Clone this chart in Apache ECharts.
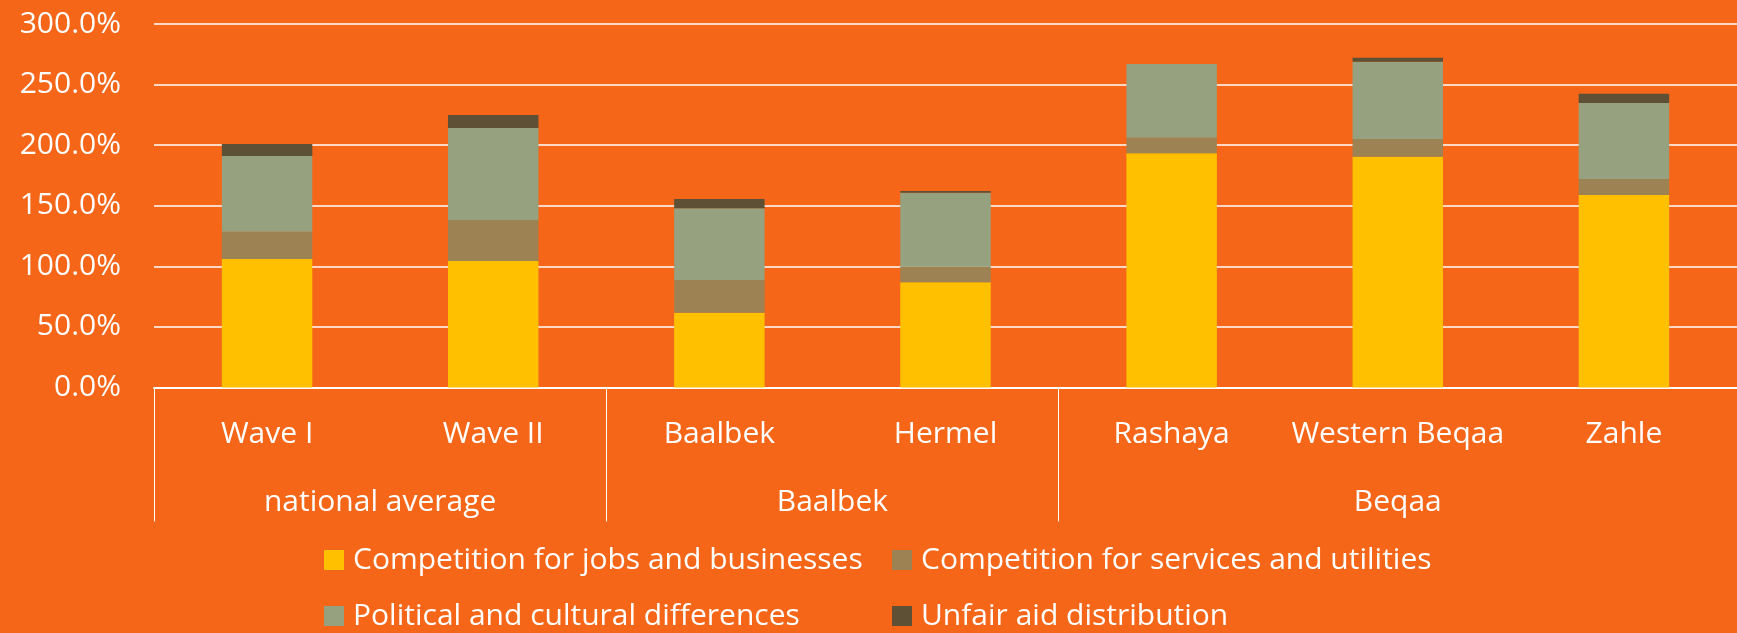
<!DOCTYPE html>
<html>
<head>
<meta charset="utf-8">
<script src="https://cdn.jsdelivr.net/npm/echarts@6/dist/echarts.min.js"></script>
<style>
  html, body { margin: 0; padding: 0; background: #F56618; }
  #chart { width: 1737px; height: 633px; }
</style>
</head>
<body>
<div id="chart"></div>
<script>
// ---- data ----
const categories = ['Wave I', 'Wave II', 'Baalbek', 'Hermel', 'Rashaya', 'Western Beqaa', 'Zahle'];
const groupNames = ['national average', 'Baalbek', 'Beqaa'];
const groupSizes = [2, 2, 3];
const seriesNames = [
  'Competition for jobs and businesses',
  'Competition for services and utilities',
  'Political and cultural differences',
  'Unfair aid distribution'
];
const jobs      = [106.0, 104.4, 61.7, 86.8, 193.3, 190.5, 158.9];
const services  = [22.6, 33.8, 27.0, 12.9, 12.9, 14.6, 13.2];
const political = [62.5, 76.0, 59.2, 61.1, 60.8, 63.8, 62.7];
const unfair    = [9.9, 10.7, 7.7, 1.4, 0, 3.3, 7.7];
const yTicks = [0, 50, 100, 150, 200, 250, 300];

// ---- build ----
const colors = ['#FFC000', '#9D8353', '#96A17F', '#5E5035'];
const values = [jobs, services, political, unfair];
const FONT = "'Open Sans', sans-serif";

// group boundaries and centers on a 0..N value scale
const bounds = [0];
groupSizes.forEach(s => bounds.push(bounds[bounds.length - 1] + s));
const centers = groupSizes.map((s, i) => bounds[i] + s / 2);

const legendStyle = {
  orient: 'vertical', top: 545, padding: 0,
  itemWidth: 20, itemHeight: 20, itemGap: 26, icon: 'rect',
  textStyle: { color: '#fff', fontSize: 30, fontFamily: FONT, lineHeight: 30, padding: [0, 0, 0, 4] }
};

const chart = echarts.init(document.getElementById('chart'), null, { renderer: 'canvas' });
chart.setOption({
  backgroundColor: '#F56618',
  animation: false,
  textStyle: { fontFamily: FONT },
  grid: { left: 154, right: 0, top: 24, bottom: 245.5, containLabel: false },
  legend: [
    Object.assign({ data: [seriesNames[0], seriesNames[2]], left: 324 }, legendStyle),
    Object.assign({ data: [seriesNames[1], seriesNames[3]], left: 892 }, legendStyle)
  ],
  xAxis: [
    {
      type: 'category',
      data: categories,
      axisLine: { show: true, lineStyle: { color: '#fff', width: 2 } },
      axisTick: { show: false },
      axisLabel: { color: '#fff', fontSize: 30, fontFamily: FONT, margin: 32, interval: 0 }
    },
    {
      type: 'value',
      min: 0, max: categories.length,
      position: 'bottom',
      axisLine: { show: false },
      splitLine: { show: false },
      axisTick: {
        show: true, length: 134, customValues: bounds.concat([categories.length]),
        lineStyle: { color: '#fff', width: 1 }
      },
      axisLabel: {
        color: '#fff', fontSize: 30, fontFamily: FONT, margin: 100,
        customValues: centers,
        formatter: (v) => {
          const i = centers.indexOf(v);
          return i >= 0 ? groupNames[i] : '';
        }
      }
    }
  ],
  yAxis: {
    type: 'value',
    min: 0, max: 300, interval: 50,
    axisLine: { show: false },
    axisTick: { show: false },
    splitLine: { show: true, lineStyle: { color: '#fff', width: 1.5 } },
    axisLabel: {
      color: '#fff', fontSize: 30, fontFamily: FONT, margin: 33,
      customValues: yTicks,
      formatter: (v) => v.toFixed(1) + '%'
    }
  },
  series: seriesNames.map((name, i) => ({
    name,
    type: 'bar',
    stack: 'total',
    barWidth: '40%',
    xAxisIndex: 0,
    itemStyle: { color: colors[i] },
    data: values[i]
  }))
});
</script>
</body>
</html>
